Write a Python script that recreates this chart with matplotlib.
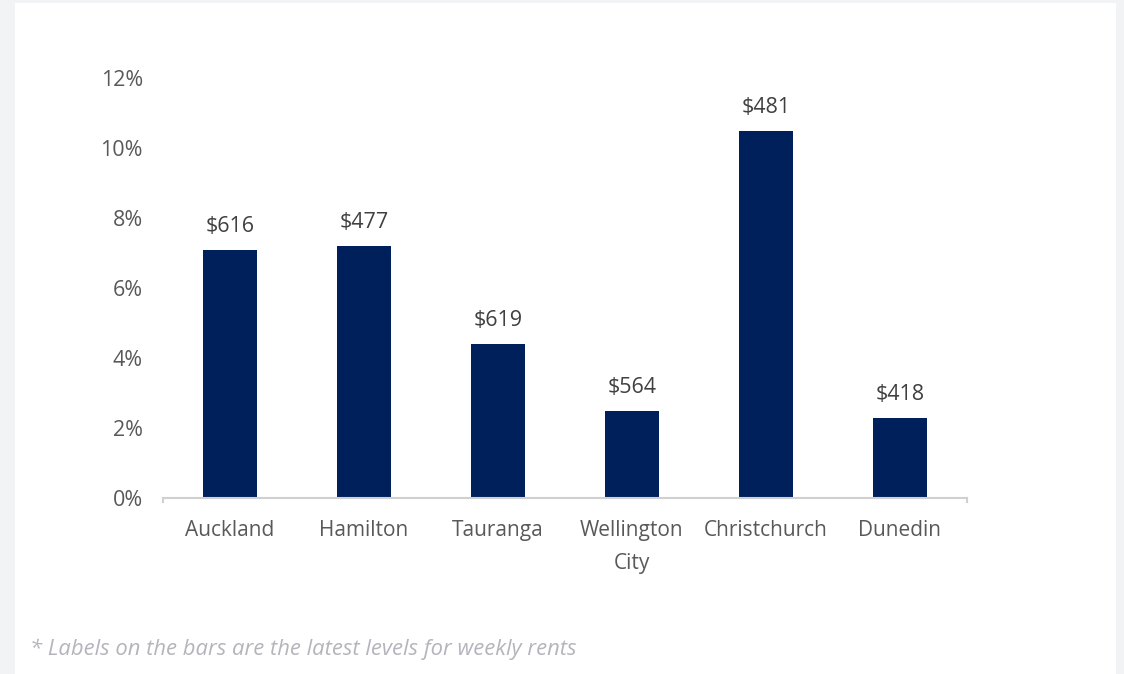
import matplotlib.pyplot as plt
from matplotlib.patches import Rectangle

cities = ["Auckland", "Hamilton", "Tauranga", "Wellington\nCity", "Christchurch", "Dunedin"]
growth = [7.1, 7.2, 4.4, 2.5, 10.5, 2.3]
rents = ["$616", "$477", "$619", "$564", "$481", "$418"]

plt.rcParams['font.family'] = ['Open Sans', 'DejaVu Sans']

fig = plt.figure(figsize=(11.24, 6.74), dpi=100, facecolor="#f1f3f4")
# white card behind the chart
fig.patches.append(Rectangle((15 / 1124, 0), 1101 / 1124, 671 / 674,
                             transform=fig.transFigure, facecolor="white",
                             edgecolor="none", zorder=-5))

ax = fig.add_axes([163 / 1124, 176 / 674, 804 / 1124, 420 / 674])
ax.set_facecolor("none")
x = range(len(cities))
bars = ax.bar(x, growth, width=0.4, color="#00205b")

for b, lab in zip(bars, rents):
    ax.annotate(lab, (b.get_x() + b.get_width() / 2, b.get_height()),
                xytext=(0, 9), textcoords="offset points", ha="center",
                va="bottom", fontsize=15.5, color="#404040")

ax.set_xlim(-0.5, len(cities) - 0.5)
ax.set_ylim(0, 12)
ax.set_yticks(range(0, 13, 2))
ax.set_yticklabels([f"{v}%" for v in range(0, 13, 2)])
ax.set_xticks(list(x))
ax.set_xticklabels(cities, linespacing=1.75)

for s in ["top", "right", "left"]:
    ax.spines[s].set_visible(False)
ax.spines["bottom"].set_color("#d0d0d0")
ax.spines["bottom"].set_linewidth(1.5)
ax.tick_params(axis="y", length=0, pad=14.5, labelsize=15.5, labelcolor="#595959")
ax.tick_params(axis="x", length=0, pad=16, labelsize=15, labelcolor="#595959")
# small end ticks on the category axis
for xe in (-0.5, len(cities) - 0.5):
    ax.plot([xe, xe], [0, -0.12], color="#d0d0d0", lw=1.5, clip_on=False)

fig.text(30 / 1124, 1 - 649 / 674, "* Labels on the bars are the latest levels for weekly rents",
         fontsize=15.8, style="italic", color="#b4b4bc", va="center")

fig.savefig("out.png", dpi=100, facecolor=fig.get_facecolor())
